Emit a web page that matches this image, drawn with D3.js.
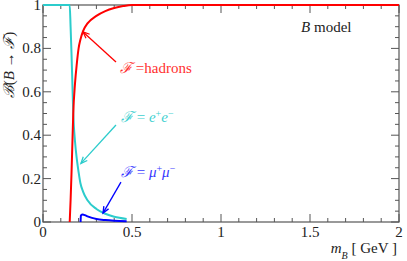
<!DOCTYPE html>
<html>
<head>
<meta charset="utf-8">
<script src="https://cdn.jsdelivr.net/npm/d3@7"></script>
<style>
body { margin: 0; background: #fff; }
</style>
</head>
<body>
<script>
// values: [m_B (GeV), branching fraction]
var hadrons = [[0.15,0],[0.155,0.1],[0.16,0.22],[0.165,0.36],[0.17,0.5],[0.18,0.64],[0.19,0.73],
  [0.2,0.8],[0.21,0.84],[0.225,0.88],[0.25,0.915],[0.3,0.95],[0.35,0.972],[0.4,0.986],
  [0.45,0.995],[0.5,1],[2,1]];
var electrons = [[0,1],[0.15,1],[0.155,0.9],[0.16,0.78],[0.165,0.64],[0.17,0.5],[0.18,0.37],
  [0.19,0.29],[0.2,0.23],[0.21,0.18],[0.225,0.14],[0.25,0.1],[0.3,0.06],[0.35,0.038],
  [0.4,0.024],[0.47,0.014]];
var muons = [[0.211,0],[0.213,0.03],[0.22,0.035],[0.23,0.033],[0.25,0.026],[0.275,0.019],
  [0.3,0.014],[0.35,0.009],[0.4,0.006],[0.47,0.004]];

var xTicks = [0, 0.5, 1, 1.5, 2];
var xTickLabels = ["0", "0.5", "1", "1.5", "2"];
var yTicks = [0, 0.2, 0.4, 0.6, 0.8, 1];
var yTickLabels = ["0", "0.2", "0.4", "0.6", "0.8", "1"];

// annotation arrows: [tail, head] in data units
var arrows = [
  {color: "#ff0000", from: [0.41, 0.737], to: [0.225, 0.876]},
  {color: "#2ccccc", from: [0.41, 0.447], to: [0.213, 0.27]},
  {color: "#0000ff", from: [0.438, 0.184], to: [0.337, 0.041]}
];

var W = 407, H = 261;
var pLeft = 43, pRight = 399, pTop = 5, pBottom = 222;
var serif = "Liberation Serif";

var svg = d3.select("body").append("svg")
  .attr("width", W).attr("height", H)
  .attr("font-family", serif);

var x = d3.scaleLinear().domain([0, 2]).range([pLeft, pRight]);
var y = d3.scaleLinear().domain([0, 1]).range([pBottom, pTop]);

var axisColor = "#555";
var minorX = d3.range(0, 2.0001, 0.1);
var minorY = d3.range(0, 1.0001, 0.05);

// ticks, pointing inward on all four sides
var g = svg.append("g");
function isMajor(v, step) { return Math.abs(v / step - Math.round(v / step)) < 1e-6; }
minorX.forEach(function(v){
  var len = isMajor(v, 0.5) ? 8 : 4;
  g.append("line").attr("x1", x(v)).attr("x2", x(v)).attr("y1", pBottom).attr("y2", pBottom - len)
    .attr("stroke", axisColor);
  g.append("line").attr("x1", x(v)).attr("x2", x(v)).attr("y1", pTop).attr("y2", pTop + len)
    .attr("stroke", axisColor);
});
minorY.forEach(function(v){
  var len = isMajor(v, 0.2) ? 8 : 4;
  g.append("line").attr("x1", pLeft).attr("x2", pLeft + len).attr("y1", y(v)).attr("y2", y(v))
    .attr("stroke", axisColor);
  g.append("line").attr("x1", pRight).attr("x2", pRight - len).attr("y1", y(v)).attr("y2", y(v))
    .attr("stroke", axisColor);
});
svg.append("rect").attr("x", pLeft).attr("y", pTop)
  .attr("width", pRight - pLeft).attr("height", pBottom - pTop)
  .attr("fill", "none").attr("stroke", axisColor).attr("stroke-width", 1.2);

// tick labels
svg.selectAll(".xl").data(xTicks).enter().append("text")
  .attr("x", function(d){ return x(d); }).attr("y", pBottom + 15)
  .attr("text-anchor", "middle").attr("font-size", 15).attr("fill", "#222")
  .attr("font-family", serif)
  .text(function(d, i){ return xTickLabels[i]; });
svg.selectAll(".yl").data(yTicks).enter().append("text")
  .attr("x", pLeft - 2).attr("y", function(d){ return y(d) + 5; })
  .attr("text-anchor", "end").attr("font-size", 15).attr("fill", "#222")
  .attr("font-family", serif)
  .text(function(d, i){ return yTickLabels[i]; });

// curves
var line = d3.line()
  .x(function(d){ return x(d[0]); })
  .y(function(d){ return y(d[1]); })
  .curve(d3.curveMonotoneX);

var plot = svg.append("g");
plot.append("path").datum(electrons).attr("d", line)
  .attr("fill", "none").attr("stroke", "#2ccccc").attr("stroke-width", 2);
plot.append("path").datum(muons).attr("d", line)
  .attr("fill", "none").attr("stroke", "#0000ff").attr("stroke-width", 2);
plot.append("path").datum(hadrons).attr("d", line)
  .attr("fill", "none").attr("stroke", "#ff0000").attr("stroke-width", 2);

// arrows
arrows.forEach(function(a){
  var x1 = x(a.from[0]), y1 = y(a.from[1]), x2 = x(a.to[0]), y2 = y(a.to[1]);
  var ang = Math.atan2(y2 - y1, x2 - x1);
  svg.append("line").attr("x1", x1).attr("y1", y1).attr("x2", x2).attr("y2", y2)
    .attr("stroke", a.color).attr("stroke-width", 1.3);
  var hl = 7, sp = 0.4;
  var p = [
    [x2 - hl * Math.cos(ang - sp), y2 - hl * Math.sin(ang - sp)],
    [x2, y2],
    [x2 - hl * Math.cos(ang + sp), y2 - hl * Math.sin(ang + sp)]
  ];
  svg.append("path").attr("d", d3.line()(p))
    .attr("fill", "none").attr("stroke", a.color).attr("stroke-width", 1.3);
});

// labels
function label(xv, yv, color, parts) {
  var t = svg.append("text").attr("x", x(xv)).attr("y", y(yv))
    .attr("font-size", 15).attr("fill", color).attr("font-family", serif);
  parts.forEach(function(p){
    var s = t.append("tspan").text(p.t);
    if (p.i) s.attr("font-style", "italic");
    if (p.sup) s.attr("baseline-shift", "super").attr("font-size", 10);
    if (p.sub) s.attr("baseline-shift", "sub").attr("font-size", 10);
  });
  return t;
}
label(0.433, 0.687, "#ff3030", [{t: "\u2131", i: 1}, {t: " =hadrons"}]);
label(0.438, 0.461, "#40d0d0", [{t: "\u2131", i: 1}, {t: " = "}, {t: "e", i: 1}, {t: "+", sup: 1},
  {t: "e", i: 1}, {t: "\u2212", sup: 1}]);
label(0.438, 0.207, "#3838ff", [{t: "\u2131", i: 1}, {t: " = "}, {t: "\u03bc", i: 1}, {t: "+", sup: 1},
  {t: "\u03bc", i: 1}, {t: "\u2212", sup: 1}]);
label(1.45, 0.875, "#222", [{t: "B", i: 1}, {t: " model"}]);

// axis titles
var xt = svg.append("text").attr("x", 397).attr("y", 253)
  .attr("text-anchor", "end").attr("font-size", 15).attr("fill", "#222").attr("font-family", serif);
xt.append("tspan").attr("font-style", "italic").text("m");
xt.append("tspan").attr("font-style", "italic").attr("font-size", 10).attr("baseline-shift", "sub").text("B");
xt.append("tspan").text(" [ GeV ]");

var yt = svg.append("text").attr("transform", "translate(14,65) rotate(-90)")
  .attr("text-anchor", "middle").attr("font-size", 15).attr("fill", "#222").attr("font-family", serif);
yt.append("tspan").attr("font-style", "italic").text("\u212c");
yt.append("tspan").text("(");
yt.append("tspan").attr("font-style", "italic").text("B");
yt.append("tspan").text(" \u2192 ");
yt.append("tspan").attr("font-style", "italic").text("\u2131");
yt.append("tspan").text(")");
</script>
</body>
</html>
